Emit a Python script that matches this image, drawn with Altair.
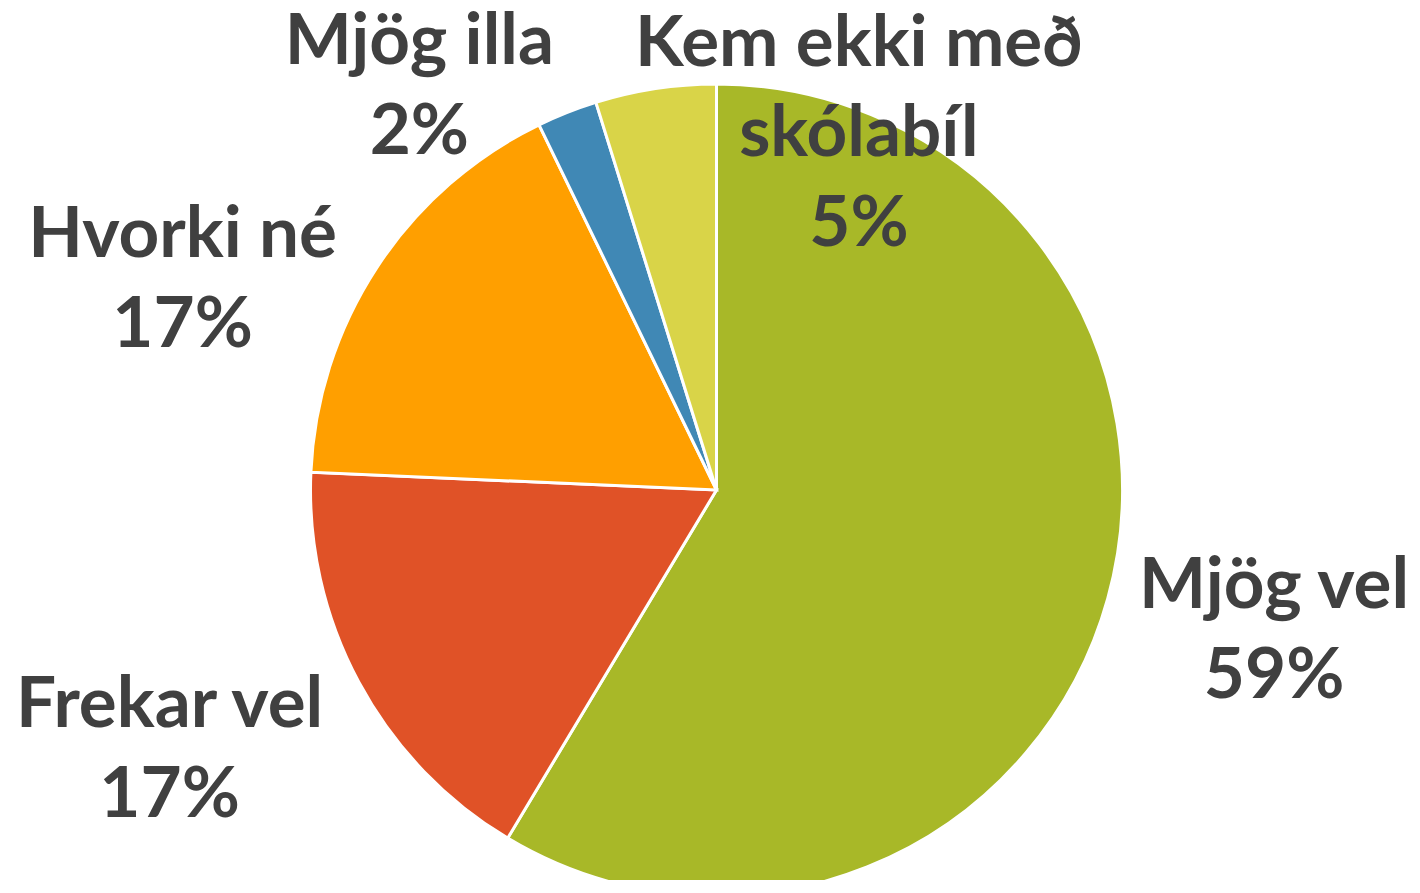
import math
import altair as alt
import pandas as pd

# ---- data ----
categories = ["Mjög vel", "Frekar vel", "Hvorki né", "Mjög illa", "Kem ekki með skólabíl"]
values = [58.6, 17.1, 17.1, 2.4, 4.8]
label_names = ["Mjög vel", "Frekar vel", "Hvorki né", "Mjög illa", "Kem ekki með\nskólabíl"]

# ---- style / layout ----
colors = ["#A8B828", "#E05227", "#FF9F00", "#4088B5", "#D9D448"]
label_angle_offset = [-5.6, 6.7, -7.9, -12.0, 26.4]    # degrees from slice mid-angle
label_radius = [566, 588, 591, 537, 467]               # px from pie centre
PIE_R = 406

df = pd.DataFrame({"category": categories, "value": values, "idx": list(range(len(values)))})

total = sum(values)
angs, cum = [], 0.0
for v, off in zip(values, label_angle_offset):
    mid = (cum + v / 2) / total * 2 * math.pi
    angs.append(mid + math.radians(off))
    cum += v
labels = [f"{n}\n{round(v)}%" for n, v in zip(label_names, values)]
lab_df = pd.DataFrame({"label": labels, "ang": angs, "r": label_radius})

pie = alt.Chart(df).mark_arc(radius=PIE_R, stroke="white", strokeWidth=3).encode(
    theta=alt.Theta("value:Q", stack=True),
    color=alt.Color("category:N", scale=alt.Scale(domain=categories, range=colors), legend=None),
    order=alt.Order("idx:Q"),
)

text = alt.Chart(lab_df).mark_text(
    font="Lato", fontWeight="bold", fontSize=71, color="#404040",
    lineBreak="\n", lineHeight=90, align="center", baseline="middle",
).encode(
    theta=alt.Theta("ang:Q", scale=None),
    radius=alt.Radius("r:Q", scale=None),
    text="label:N",
)

chart = alt.layer(pie, text).resolve_scale(theta="independent").properties(
    width=1391, height=780,
    padding={"left": 13, "top": 92, "right": 0, "bottom": 0},
    autosize=alt.AutoSizeParams(type="none"),
).configure_view(stroke=None)

chart.save("out.html", embed_options={"renderer": "svg", "actions": False})
